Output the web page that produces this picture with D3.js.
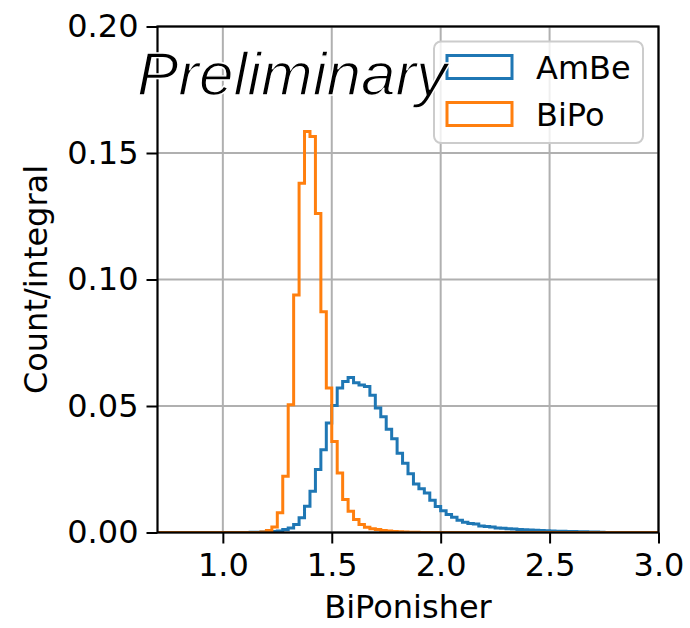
<!DOCTYPE html>
<html>
<head>
<meta charset="utf-8">
<script src="https://cdn.jsdelivr.net/npm/d3@7"></script>
<style>
  body { margin: 0; background: #ffffff; }
  svg text { font-family: "DejaVu Sans", sans-serif; }
</style>
</head>
<body>
<svg id="chart" width="690" height="628"></svg>
<script>
// Histogram binning: fixed-width bins starting at the left edge of the axis
const binStart = 0.7;
const binWidth = 0.025;

// Normalised counts per bin (count / integral)
const ambeValues = [
  0, 0, 0, 0, 0, 0, 0, 0, 0, 0,
  0, 0, 0, 0, 0, 0, 0, 0.0001, 0.0001, 0.0002,
  0.0003, 0.0004, 0.0006, 0.0012, 0.0018, 0.0032, 0.0058, 0.0104, 0.0163, 0.0249,
  0.0327, 0.0433, 0.0502, 0.0571, 0.0597, 0.0613, 0.0592, 0.0583, 0.0577, 0.0542,
  0.0492, 0.0458, 0.0408, 0.0371, 0.0313, 0.0274, 0.0232, 0.0192, 0.0173, 0.0156,
  0.0127, 0.0103, 0.0086, 0.0071, 0.0060, 0.0048, 0.0041, 0.0036, 0.0034, 0.0026,
  0.0024, 0.0022, 0.0018, 0.0017, 0.0015, 0.0014, 0.0012, 0.0011, 0.0010, 0.0009,
  0.0008, 0.0007, 0.0006, 0.0005, 0.0005, 0.0004, 0.0004, 0.0003, 0.0003, 0.0002,
  0.0002, 0.0001, 0, 0, 0, 0, 0, 0, 0, 0,
  0, 0
];
const bipoValues = [
  0, 0, 0, 0, 0, 0, 0, 0, 0, 0,
  0, 0, 0, 0, 0, 0, 0, 0, 0, 0.0002,
  0.0008, 0.0022, 0.0078, 0.0222, 0.0505, 0.0939, 0.1380, 0.1585, 0.1565, 0.1261,
  0.0873, 0.0571, 0.0360, 0.0235, 0.0130, 0.0084, 0.0051, 0.0032, 0.0021, 0.0015,
  0.0012, 0.0008, 0.0006, 0.0004, 0.0003, 0.0002, 0.0001, 0.0001, 0, 0,
  0, 0, 0, 0, 0, 0, 0, 0, 0, 0,
  0, 0, 0, 0, 0, 0, 0, 0, 0, 0,
  0, 0, 0, 0, 0, 0, 0, 0, 0, 0,
  0, 0, 0, 0, 0, 0, 0, 0, 0, 0,
  0, 0
];

const seriesNames = ["AmBe", "BiPo"];
const seriesColors = ["#1f77b4", "#ff7f0e"];

const xDomain = [0.7, 3.0];
const yDomain = [0, 0.2];
const xTicks = [1.0, 1.5, 2.0, 2.5, 3.0];
const yTicks = [0.00, 0.05, 0.10, 0.15, 0.20];

const xLabel = "BiPonisher";
const yLabel = "Count/integral";
const watermark = "Preliminary";

// ---- layout ----
const plot = { left: 157.5, right: 658.5, top: 26.5, bottom: 532.5 };
const fontSize = 32;
const svg = d3.select("#chart");

const x = d3.scaleLinear().domain(xDomain).range([plot.left, plot.right]);
const y = d3.scaleLinear().domain(yDomain).range([plot.bottom, plot.top]);

svg.append("defs").append("clipPath").attr("id", "plotClip")
  .append("rect")
  .attr("x", plot.left).attr("y", plot.top)
  .attr("width", plot.right - plot.left).attr("height", plot.bottom - plot.top);

// ---- grid ----
const grid = svg.append("g").attr("class", "grid");
grid.selectAll("line.gx").data(xTicks).join("line")
  .attr("x1", d => x(d)).attr("x2", d => x(d))
  .attr("y1", plot.top).attr("y2", plot.bottom)
  .attr("stroke", "#b0b0b0").attr("stroke-width", 2);
grid.selectAll("line.gy").data(yTicks).join("line")
  .attr("x1", plot.left).attr("x2", plot.right)
  .attr("y1", d => y(d)).attr("y2", d => y(d))
  .attr("stroke", "#b0b0b0").attr("stroke-width", 2);

// ---- step histograms ----
function stepPoints(values) {
  const pts = [[binStart, 0]];
  values.forEach((v, i) => pts.push([binStart + i * binWidth, v]));
  const end = binStart + values.length * binWidth;
  pts.push([end, values[values.length - 1]]);
  pts.push([end, 0]);
  return pts;
}
const stepLine = d3.line()
  .x(d => x(d[0])).y(d => y(d[1]))
  .curve(d3.curveStepAfter);

const hist = svg.append("g").attr("clip-path", "url(#plotClip)");
[ambeValues, bipoValues].forEach((vals, k) => {
  hist.append("path")
    .datum(stepPoints(vals))
    .attr("d", stepLine)
    .attr("fill", "none")
    .attr("stroke", seriesColors[k])
    .attr("stroke-width", 3)
    .attr("stroke-linejoin", "miter");
});

// ---- axes ----
const xAxis = svg.append("g")
  .attr("transform", `translate(0,${plot.bottom})`)
  .call(d3.axisBottom(x).tickValues(xTicks).tickFormat(d3.format(".1f"))
    .tickSize(11).tickPadding(10).tickSizeOuter(0));
const yAxis = svg.append("g")
  .attr("transform", `translate(${plot.left},0)`)
  .call(d3.axisLeft(y).tickValues(yTicks).tickFormat(d3.format(".2f"))
    .tickSize(11).tickPadding(8).tickSizeOuter(0));
[xAxis, yAxis].forEach(g => {
  g.select(".domain").remove();
  g.selectAll(".tick line").attr("stroke", "#000").attr("stroke-width", 2);
  g.selectAll(".tick text")
    .attr("fill", "#000")
    .style("font-family", "'DejaVu Sans', sans-serif")
    .style("font-size", fontSize + "px");
});

// ---- frame ----
svg.append("rect")
  .attr("x", plot.left).attr("y", plot.top)
  .attr("width", plot.right - plot.left).attr("height", plot.bottom - plot.top)
  .attr("fill", "none").attr("stroke", "#000").attr("stroke-width", 2.2);

// ---- axis labels ----
svg.append("text")
  .attr("x", (plot.left + plot.right) / 2).attr("y", 618)
  .attr("text-anchor", "middle")
  .style("font-size", fontSize + "px")
  .text(xLabel);
svg.append("text")
  .attr("transform", `translate(47,${(plot.top + plot.bottom) / 2}) rotate(-90)`)
  .attr("text-anchor", "middle")
  .style("font-size", fontSize + "px")
  .text(yLabel);

// ---- legend ----
const legend = svg.append("g");
legend.append("rect")
  .attr("x", 434).attr("y", 41.5).attr("width", 209).attr("height", 101.5)
  .attr("rx", 7).attr("ry", 7)
  .attr("fill", "#ffffff").attr("fill-opacity", 0.8)
  .attr("stroke", "#cccccc").attr("stroke-width", 2);
seriesNames.forEach((name, i) => {
  const rowY = 67 + i * 47;
  legend.append("rect")
    .attr("x", 447).attr("y", rowY - 11.5).attr("width", 65).attr("height", 23)
    .attr("fill", "none").attr("stroke", seriesColors[i]).attr("stroke-width", 3);
  legend.append("text")
    .attr("x", 536).attr("y", rowY + 11.5)
    .style("font-size", fontSize + "px")
    .text(name);
});

// ---- watermark (thin italic) ----
svg.append("text")
  .attr("x", 137).attr("y", 95)
  .style("font-family", "'Liberation Sans', Arial, sans-serif")
  .style("font-style", "italic")
  .style("font-size", "62px")
  .attr("fill", "#000")
  .attr("stroke", "#ffffff")
  .attr("stroke-width", 1.4)
  .style("paint-order", "fill")
  .text(watermark);
</script>
</body>
</html>
